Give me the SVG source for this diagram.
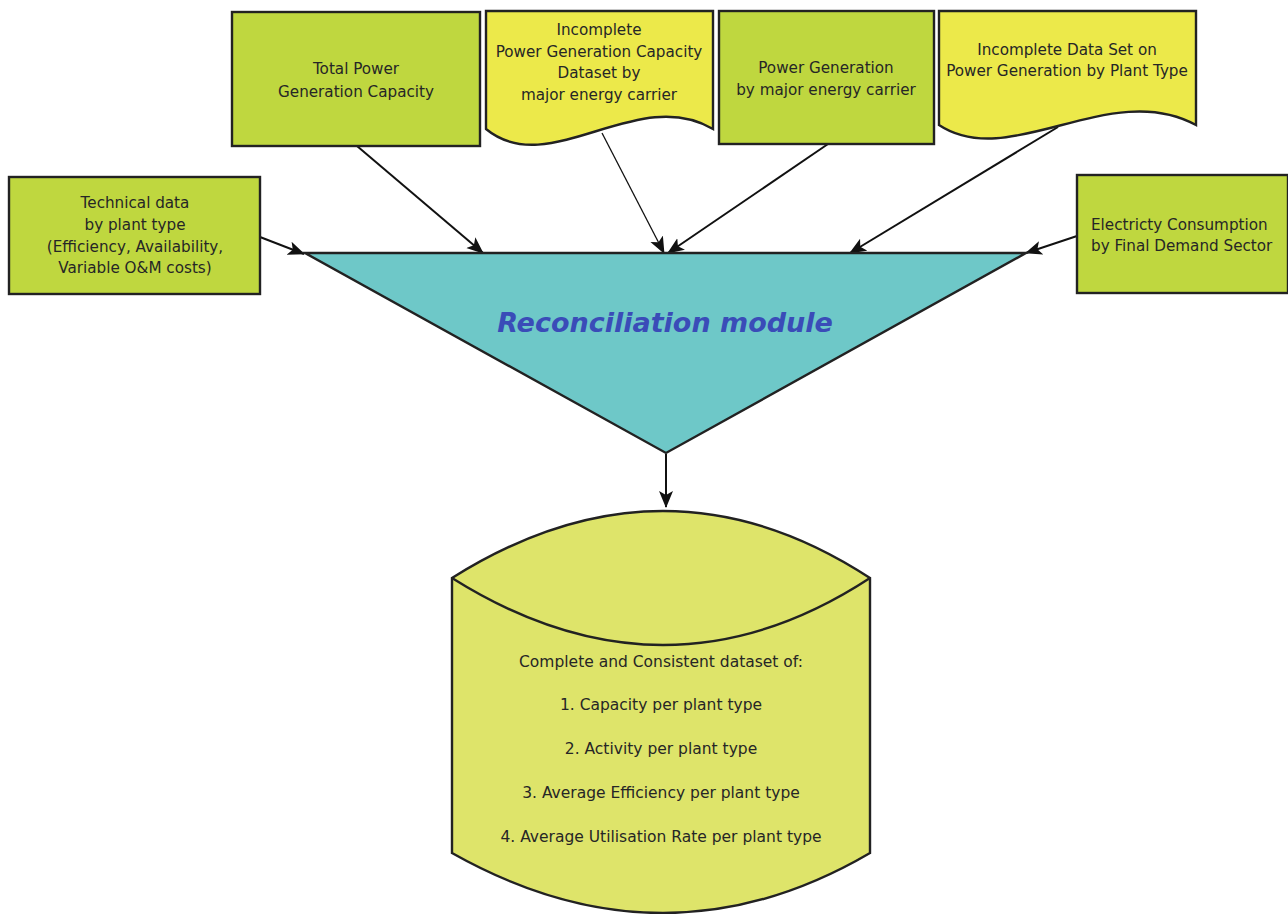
<svg xmlns="http://www.w3.org/2000/svg" width="1288" height="914" viewBox="0 0 1288 914">
<style>
.box{fill:#bfd73f;stroke:#222;stroke-width:2.4}
.doc{fill:#ece94a;stroke:#222;stroke-width:2.4}
.t{font-family:"DejaVu Sans",Verdana,sans-serif;font-size:15.2px;fill:#262626;text-anchor:middle}
.c{font-family:"DejaVu Sans",Verdana,sans-serif;font-size:15.5px;fill:#262626;text-anchor:middle}
.e{stroke:#111;stroke-width:2;fill:none;marker-end:url(#ah)}
.thin{stroke-width:1.3}
</style>
<defs>
<marker id="ah" markerUnits="userSpaceOnUse" markerWidth="20" markerHeight="16" refX="16" refY="7" orient="auto">
<path d="M0,0 L17,7 L0,14 L4,7 z" fill="#111"/>
</marker>
</defs>
<rect width="1288" height="914" fill="#fff"/>
<g id="connectors">
<line class="e" x1="260" y1="237" x2="304" y2="254"/>
<line class="e" x1="357" y1="146" x2="483" y2="253"/>
<line class="e thin" x1="602" y1="133" x2="664" y2="253"/>
<line class="e" x1="828" y1="144" x2="668" y2="253"/>
<line class="e" x1="1058" y1="127" x2="850" y2="253"/>
<line class="e" x1="1077" y1="236" x2="1026" y2="253"/>
<line class="e" x1="666" y1="454" x2="666" y2="507"/>
</g>
<g id="n-total-capacity">
<rect class="box" x="232" y="12" width="248" height="134"/>
<text class="t" x="356" y="74">Total Power</text>
<text class="t" x="356" y="97">Generation Capacity</text>
</g>
<g id="n-incomplete-capacity">
<path class="doc" d="M486,11 L713,11 L713,129 C637,84 549,181 486,129 Z"/>
<text class="t" x="599" y="35">Incomplete</text>
<text class="t" x="599" y="57">Power Generation Capacity</text>
<text class="t" x="599" y="78">Dataset by</text>
<text class="t" x="599" y="100">major energy carrier</text>
</g>
<g id="n-power-generation">
<rect class="box" x="719" y="11" width="215" height="133"/>
<text class="t" x="826" y="73">Power Generation</text>
<text class="t" x="826" y="95">by major energy carrier</text>
</g>
<g id="n-incomplete-generation">
<path class="doc" d="M939,11 L1196,11 L1196,125 C1110,78 1010,172 939,125 Z"/>
<text class="t" x="1067" y="55">Incomplete Data Set on</text>
<text class="t" x="1067" y="76">Power Generation by Plant Type</text>
</g>
<g id="n-technical">
<rect class="box" x="9" y="177" width="251" height="117"/>
<text class="t" x="135" y="208">Technical data</text>
<text class="t" x="135" y="230">by plant type</text>
<text class="t" x="135" y="252">(Efficiency, Availability,</text>
<text class="t" x="135" y="273">Variable O&amp;M costs)</text>
</g>
<g id="n-electricity">
<rect class="box" x="1077" y="175" width="211" height="118"/>
<text class="t" x="1091" y="230" style="text-anchor:start">Electricty Consumption</text>
<text class="t" x="1091" y="251" style="text-anchor:start">by Final Demand Sector</text>
</g>
<g id="n-reconciliation">
<path d="M305,253 L1026,253 L666,453 Z" fill="#6ec8c8" stroke="#222" stroke-width="2.4" stroke-linejoin="miter"/>
<text x="665" y="332" style="font-family:'DejaVu Sans',Verdana,sans-serif;font-size:27px;font-weight:bold;font-style:italic;fill:#3a4cb8;text-anchor:middle">Reconciliation module</text>
</g>
<g id="n-dataset">
<path d="M452,578 Q665,444 870,578 L870,853 Q665,973 452,853 Z" fill="#dee46a" stroke="#222" stroke-width="2.4"/>
<path d="M452,578 Q665,712 870,578" fill="none" stroke="#222" stroke-width="2.4"/>
<text class="c" x="661" y="667">Complete and Consistent dataset of:</text>
<text class="c" x="661" y="710">1. Capacity per plant type</text>
<text class="c" x="661" y="754">2. Activity per plant type</text>
<text class="c" x="661" y="798">3. Average Efficiency per plant type</text>
<text class="c" x="661" y="842">4. Average Utilisation Rate per plant type</text>
</g>
</svg>
